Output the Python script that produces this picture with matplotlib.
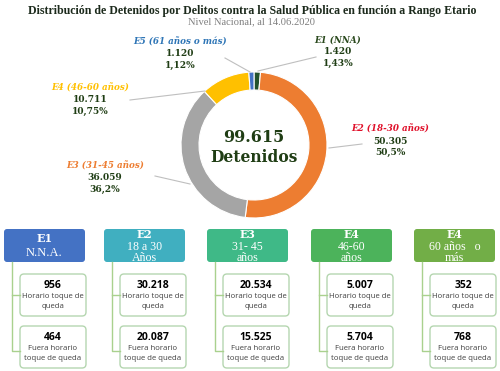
import matplotlib.pyplot as plt
from matplotlib.patches import FancyBboxPatch

# donut data (order: clockwise from 12 o'clock)
donut_names = ["E1 (NNA)", "E2 (18-30 años)", "E3 (31-45 años)", "E4 (46-60 años)", "E5 (61 años o más)"]
donut_values = [1420, 50305, 36059, 10711, 1120]
donut_pct = ["1,43%", "50,5%", "36,2%", "10,75%", "1,12%"]
donut_colors = ["#24522c", "#ed7d31", "#a5a5a5", "#ffc000", "#4472c4"]
name_colors = ["#2b4a1e", "#e0102a", "#ed7d31", "#ffc000", "#2e75b6"]

# bottom boxes
head_codes = ["E1", "E2", "E3", "E4", "E4"]
head_lines = [["N.N.A."], ["18 a 30", "Años"], ["31- 45", "años"], ["46-60", "años"], ["60 años   o", "más"]]
head_colors = ["#4472c4", "#40afc0", "#3fb987", "#4cb35b", "#72ae47"]
horario = [956, 30218, 20534, 5007, 352]
fuera = [464, 20087, 15525, 5704, 768]


def fmt(v):
    return f"{v:,}".replace(",", ".")


plt.rcParams['font.family'] = ['DejaVu Serif']
fig = plt.figure(figsize=(5, 3.71), dpi=100)
ax = fig.add_axes([0, 0, 1, 1])

green_txt = "#1f3d14"

# titles
ax.text(252, 11, "Distribución de Detenidos por Delitos contra la Salud Pública en función a Rango Etario",
        ha='center', va='center', fontsize=8.6, fontweight='bold', color="#1c2a1c",
        family='Liberation Serif')
ax.text(252, 22, "Nivel Nacional, al 14.06.2020", ha='center', va='center',
        fontsize=7.6, color="#7f7f7f", family='Liberation Serif')

# donut
cx, cy, r = 254, 145, 73
ax.pie(donut_values, colors=donut_colors, startangle=-90, counterclock=True,
       center=(cx, cy), radius=r, frame=True,
       wedgeprops=dict(width=18, edgecolor='white', linewidth=0.8))
ax.set_xlim(0, 500)
ax.set_ylim(371, 0)
ax.axis('off')

ax.text(cx, 137, fmt(sum(donut_values)), ha='center', va='center', fontsize=11.5,
        fontweight='bold', color=green_txt)
ax.text(cx, 157, "Detenidos", ha='center', va='center', fontsize=11.2,
        fontweight='bold', color=green_txt)

# labels: (x, y of name line) and leader line ends
label_pos = [(338, 40), (390, 129), (105, 166), (90, 88), (180, 42)]
leaders = [((316, 57), (258, 71)), ((362, 144), (329, 148)), ((155, 176), (190, 184)),
           ((130, 100), (205, 91)), ((225, 58), (250, 72))]
for i in range(len(donut_values)):
    (x0, y0), (x1, y1) = leaders[i]
    ax.plot([x0, x1], [y0, y1], color="#bfbfbf", lw=0.8)
    lx, ly = label_pos[i]
    ax.text(lx, ly, donut_names[i], ha='center', va='center', fontsize=6.3,
            fontweight='bold', style='italic', color=name_colors[i])
    ax.text(lx, ly + 12, fmt(donut_values[i]), ha='center', va='center', fontsize=6.5,
            fontweight='bold', color=green_txt)
    ax.text(lx, ly + 23, donut_pct[i], ha='center', va='center', fontsize=6.5,
            fontweight='bold', color=green_txt)

# bottom boxes
lefts = [4, 104, 207, 311, 414]
hw, hh = 81, 33
for i in range(len(head_codes)):
    x = lefts[i]
    ax.add_patch(FancyBboxPatch((x, 229), hw, hh, boxstyle="round,pad=0,rounding_size=3",
                                fc=head_colors[i], ec='none'))
    if len(head_lines[i]) == 1:
        ax.text(x + hw / 2, 238, head_codes[i], ha='center', va='center', fontsize=8,
                fontweight='bold', color='white')
        ax.text(x + hw / 2, 253, head_lines[i][0], ha='center', va='center', fontsize=9,
                color='white', family='Liberation Serif')
    else:
        ax.text(x + hw / 2, 235, head_codes[i], ha='center', va='center', fontsize=7.8,
                fontweight='bold', color='white')
        for j, t in enumerate(head_lines[i]):
            ax.text(x + hw / 2, 246.5 + 11.5 * j, t, ha='center', va='center', fontsize=8.6,
                    color='white', family='Liberation Serif')
    # connector
    lx = x + 8
    ax.plot([lx, lx, x + 16], [262, 351, 351], color="#a9d18e", lw=1)
    ax.plot([lx, x + 16], [295, 295], color="#a9d18e", lw=1)
    # sub boxes
    bx, bw = x + 16, hw - 15
    for by, val, lines in [(274, horario[i], ["Horario toque de", "queda"]),
                           (326, fuera[i], ["Fuera horario", "toque de queda"])]:
        ax.add_patch(FancyBboxPatch((bx, by), bw, 42, boxstyle="round,pad=0,rounding_size=4",
                                    fc='white', ec="#b5d6b0", lw=1))
        ax.text(bx + bw / 2, by + 11, fmt(val), ha='center', va='center', fontsize=7.5,
                fontweight='bold', color='black', family='Open Sans')
        ax.text(bx + bw / 2, by + 23, lines[0], ha='center', va='center', fontsize=5.6,
                color="#404040", family='Open Sans')
        ax.text(bx + bw / 2, by + 33, lines[1], ha='center', va='center', fontsize=5.6,
                color="#404040", family='Open Sans')

fig.savefig("out.png", dpi=100)
